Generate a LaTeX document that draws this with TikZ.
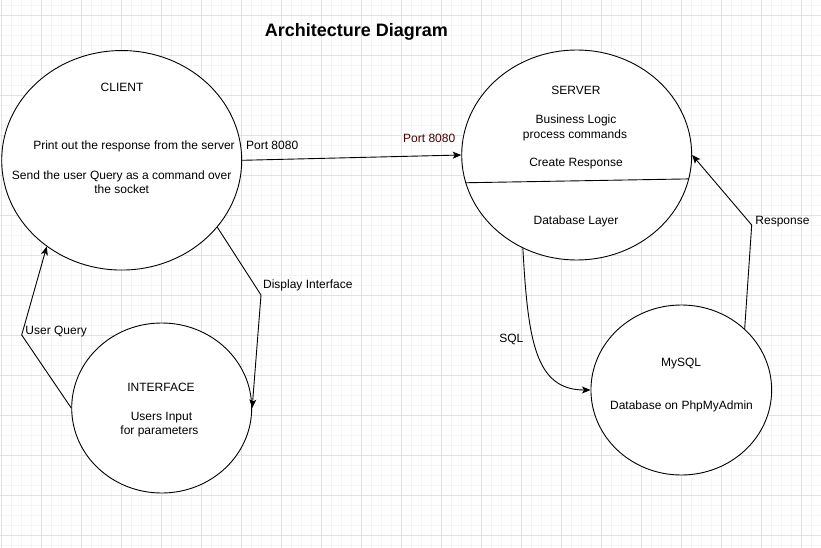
\documentclass[tikz,border=0pt]{standalone}
\usepackage{fontspec}
\setmainfont{Liberation Sans}
\usetikzlibrary{shapes.geometric,arrows.meta}
\definecolor{gridminor}{HTML}{F5F5F5}
\definecolor{gridmajor}{HTML}{E2E2E2}
\definecolor{portred}{HTML}{4A0000}
\tikzset{
  blob/.style={draw,ellipse,inner sep=0pt},
  lbl/.style={inner sep=0pt,font=\fontsize{12}{14.4}\selectfont,text height=8.6pt,text depth=0pt},
}
\begin{document}
\begin{tikzpicture}[x=1pt,y=-1pt,line width=0.9pt,>={Stealth[length=8.5pt,width=7pt,inset=2pt]}]
    \useasboundingbox (0,0) rectangle (821,548);
    \fill[white] (0,0) rectangle (821,548);
    % grid
    \foreach \gx in {1.7,11.7,...,821} \draw[gridminor,line width=0.7pt] (\gx,0)--(\gx,548);
    \foreach \gy in {5,15,...,548} \draw[gridminor,line width=0.7pt] (0,\gy)--(821,\gy);
    \foreach \gx in {1.7,41.7,...,821} \draw[gridmajor,line width=0.8pt] (\gx,0)--(\gx,548);
    \foreach \gy in {15,55,...,548} \draw[gridmajor,line width=0.8pt] (0,\gy)--(821,\gy);

    \node[font=\fontsize{18}{21}\selectfont\bfseries,inner sep=0pt,text height=12.5pt,text depth=0pt] (title) at (356.5,30) {Architecture Diagram};

    \node[blob,fill=white,minimum width=240pt,minimum height=219.5pt] (client) at (121.7,160.3) {};
    \node[lbl] (clientname) at (122,87) {CLIENT};
    \node[lbl] (clientprint) at (134,145) {Print out the response from the server};
    \node[lbl] (clientsend) at (121.7,175) {Send the user Query as a command over};
    \node[lbl] (clientsock) at (121.7,189) {the socket};

    \node[blob,fill=white,minimum width=230pt,minimum height=210pt] (server) at (576.7,155) {};
    \draw (server.194)--(server.348);
    \node[lbl] (servername) at (576,90.7) {SERVER};
    \node[lbl] (serverlogic) at (576,119) {Business Logic};
    \node[lbl] (serverproc) at (575,134) {process commands};
    \node[lbl] (serverresp) at (576,162.7) {Create Response};
    \node[lbl] (serverdb) at (576,220) {Database Layer};

    \node[blob,fill=white,minimum width=180pt,minimum height=170pt] (iface) at (161.7,408) {};
    \node[lbl] (ifacename) at (161,386.7) {INTERFACE};
    \node[lbl] (ifaceinput) at (161.5,416) {Users Input};
    \node[lbl] (ifaceparam) at (159.5,430) {for parameters};

    \node[blob,fill=white,minimum width=180.7pt,minimum height=170pt] (mysql) at (681.3,390) {};
    \node[lbl] (mysqlname) at (681,361.7) {MySQL};
    \node[lbl] (mysqlphp) at (681.5,405) {Database on PhpMyAdmin};

    % connectors
    \draw[->] (client.east)--(server.west);
    \node[lbl,anchor=west] (portleft) at (245.7,145) {Port 8080};
    \node[lbl,text=portred] (portright) at (429.2,138.3) {Port 8080};

    \coordinate (uqbend) at (21.7,335);
    \draw[->] (iface.west)--(uqbend)--(client.229);
    \node[lbl,anchor=west] (userquery) at (25,330) {User Query};

    \coordinate (dibend) at (261,295);
    \draw[->] (client.-35)--(dibend)--(iface.east);
    \node[lbl,anchor=west] (dispiface) at (262.7,284.3) {Display Interface};

    \draw[->] (server.240) .. controls (528,340) and (535,390) .. (mysql.west);
    \node[lbl] (sqllbl) at (511.3,337.7) {SQL};

    \coordinate (rsbend) at (751.7,225);
    \draw[->] (mysql.44)--(rsbend)--(server.east);
    \node[lbl,anchor=west] (resplbl) at (755,220) {Response};
\end{tikzpicture}
\end{document}
